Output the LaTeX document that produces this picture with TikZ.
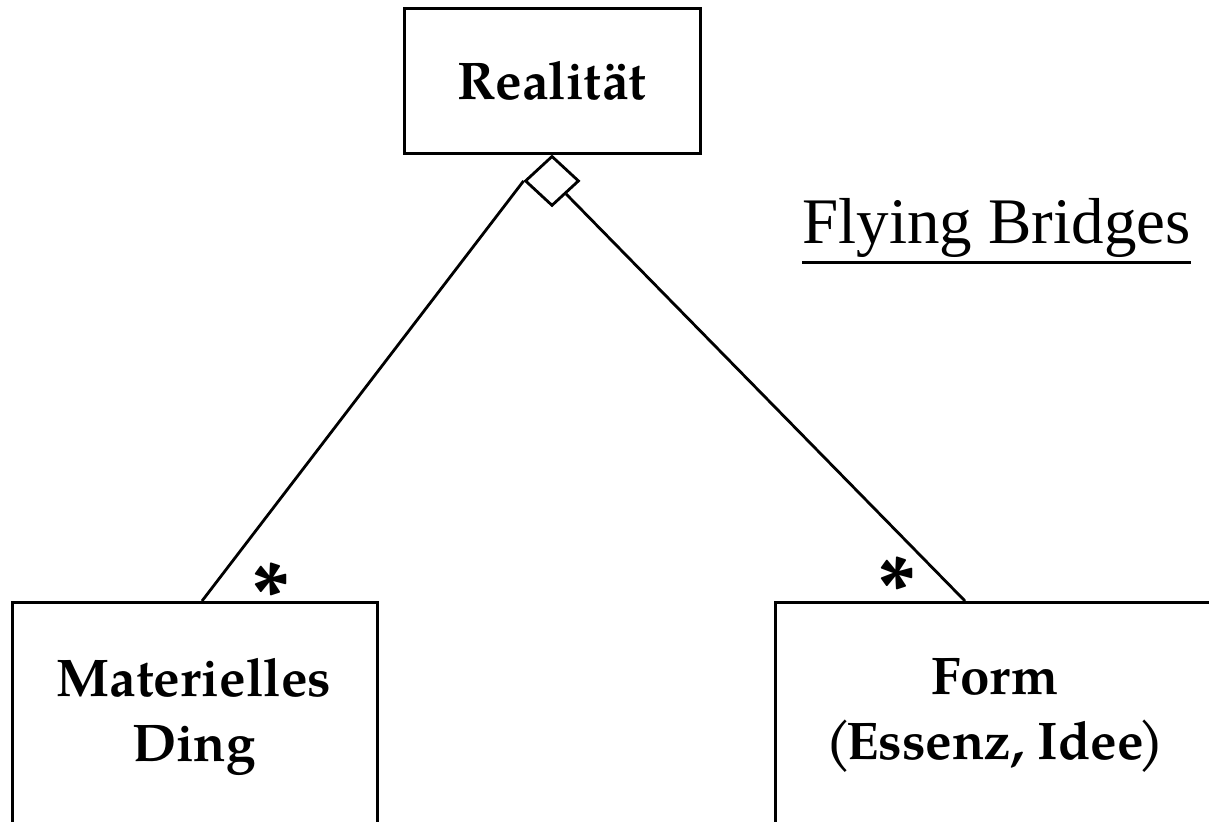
\documentclass[tikz,border=0pt]{standalone}
\usepackage{fontspec}
\setmainfont{TeX Gyre Pagella}
\newfontfamily\timesf{Liberation Serif}
\usetikzlibrary{shapes.geometric,calc}
\begin{document}
\begin{tikzpicture}[x=0.5pt,y=-0.5pt,
  box/.style={draw,line width=1.5pt,inner sep=0pt},
  lbl/.style={font=\bfseries\fontsize{26.5}{32.5}\selectfont,align=center},
  star/.style={font=\bfseries\fontsize{44}{50}\selectfont,inner sep=0pt},
  conn/.style={line width=1.4pt}]
\useasboundingbox (0,0) rectangle (1209,821);
\clip (0,0) rectangle (1209,821);
% top class
\node[box,lbl,minimum width=148pt,minimum height=72.5pt] (real) at (552,80.5) {Realität};
% aggregation diamond
\node[draw,diamond,line width=1.4pt,fill=white,minimum width=27pt,minimum height=25pt,inner sep=0pt,anchor=north] (agg) at (real.south) {};
% bottom classes
\node[box,minimum width=182.5pt,minimum height=150pt,anchor=north west] (mat) at (11,601) {};
\node[lbl] (matt) at (194,717) {Materielles\\Ding};
\node[box,minimum width=225pt,minimum height=150pt,anchor=north west] (form) at (774,601) {};
\node[lbl] (formt) at (995,715) {Form\\(\kern-2.5pt Essenz, Idee\kern-2.5pt)};
% connectors
\draw[conn] (agg.west) -- ($(mat.north west)+(191,0)$);
\draw[conn] (agg.south east) -- ($(form.north west)+(191,0)$);
% multiplicities
\node[star] (s1) at (271,593) {*};
\node[star] (s2) at (897,587) {*};
% title
\node[font=\timesf\fontsize{32.5}{38}\selectfont,anchor=base,inner sep=0pt] (fb) at (996.5,243) {Flying Bridges};
\draw[line width=1.5pt] ($(fb.base west)+(0,19)$) -- ($(fb.base east)+(0,19)$);
\end{tikzpicture}
\end{document}
